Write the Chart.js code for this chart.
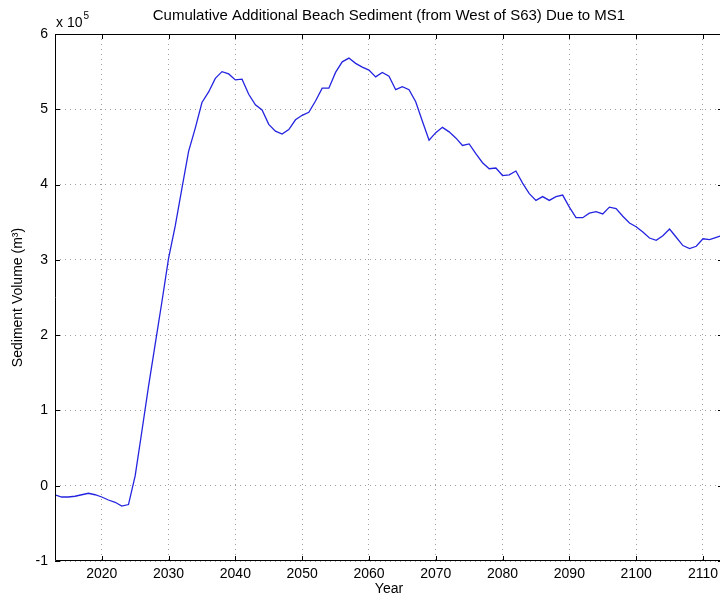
<!DOCTYPE html>
<html>
<head>
<meta charset="utf-8">
<script src="https://cdn.jsdelivr.net/npm/chart.js@4/dist/chart.umd.min.js"></script>
<style>
  html, body { margin: 0; padding: 0; background: #fff; }
  #wrap { width: 720px; height: 598px; overflow: hidden; position: relative; }
  #wrap canvas { position: absolute; left: 0; top: 0; }
</style>
</head>
<body>
<div id="wrap"><canvas id="chart" width="723" height="598"></canvas></div>
<script>
// --- data (volume in units of 10^5 m^3) ---
const years = [
  2013, 2014, 2015, 2016, 2017, 2018, 2019, 2020, 2021, 2022,
  2023, 2024, 2025, 2026, 2027, 2028, 2029, 2030, 2031, 2032,
  2033, 2034, 2035, 2036, 2037, 2038, 2039, 2040, 2041, 2042,
  2043, 2044, 2045, 2046, 2047, 2048, 2049, 2050, 2051, 2052,
  2053, 2054, 2055, 2056, 2057, 2058, 2059, 2060, 2061, 2062,
  2063, 2064, 2065, 2066, 2067, 2068, 2069, 2070, 2071, 2072,
  2073, 2074, 2075, 2076, 2077, 2078, 2079, 2080, 2081, 2082,
  2083, 2084, 2085, 2086, 2087, 2088, 2089, 2090, 2091, 2092,
  2093, 2094, 2095, 2096, 2097, 2098, 2099, 2100, 2101, 2102,
  2103, 2104, 2105, 2106, 2107, 2108, 2109, 2110, 2111, 2112,
  2113
];
const volume = [
  -0.12, -0.15, -0.15, -0.14, -0.12, -0.10, -0.12, -0.15, -0.19, -0.22,
  -0.27, -0.25, 0.13, 0.72, 1.32, 1.88, 2.44, 3.02, 3.45, 3.95,
  4.44, 4.75, 5.09, 5.23, 5.41, 5.50, 5.47, 5.39, 5.40, 5.20,
  5.06, 4.99, 4.80, 4.71, 4.67, 4.73, 4.86, 4.92, 4.96, 5.11,
  5.28, 5.28, 5.49, 5.63, 5.68, 5.61, 5.56, 5.52, 5.43, 5.49,
  5.44, 5.26, 5.30, 5.26, 5.10, 4.84, 4.59, 4.69, 4.76, 4.70,
  4.62, 4.52, 4.54, 4.41, 4.29, 4.21, 4.22, 4.12, 4.13, 4.18,
  4.02, 3.88, 3.79, 3.84, 3.79, 3.84, 3.86, 3.70, 3.56, 3.56,
  3.62, 3.64, 3.61, 3.70, 3.68, 3.58, 3.49, 3.44, 3.37, 3.29,
  3.26, 3.32, 3.41, 3.30, 3.19, 3.15, 3.18, 3.28, 3.27, 3.30,
  3.33
];
const xTicks = [2020, 2030, 2040, 2050, 2060, 2070, 2080, 2090, 2100, 2110];
const yTicks = [-1, 0, 1, 2, 3, 4, 5, 6];

const TITLE = 'Cumulative Additional Beach Sediment (from West of S63) Due to MS1';
const FONT = "'Liberation Sans', Arial, Helvetica, sans-serif";

// MATLAB-like box with inward tick marks, title over the axes, "x 10^5" label
const matlabAxes = {
  id: 'matlabAxes',
  afterDraw(chart) {
    const { ctx, chartArea: a, scales: { x, y } } = chart;
    const tl = 5;
    ctx.save();
    ctx.strokeStyle = '#000';
    ctx.lineWidth = 1;
    ctx.beginPath();
    ctx.rect(a.left + 0.5, a.top + 0.5, a.right - a.left - 1, a.bottom - a.top - 1);
    xTicks.forEach(v => {
      const px = Math.round(x.getPixelForValue(v)) + 0.5;
      ctx.moveTo(px, a.bottom); ctx.lineTo(px, a.bottom - tl);
      ctx.moveTo(px, a.top); ctx.lineTo(px, a.top + tl);
    });
    yTicks.forEach(v => {
      const py = Math.round(y.getPixelForValue(v)) + 0.5;
      ctx.moveTo(a.left, py); ctx.lineTo(a.left + tl, py);
      ctx.moveTo(a.right, py); ctx.lineTo(a.right - tl, py);
    });
    ctx.stroke();

    ctx.fillStyle = '#000';

    // title, centred over the plot box like MATLAB does
    ctx.font = '15px ' + FONT;
    ctx.textAlign = 'center';
    ctx.textBaseline = 'middle';
    ctx.fillText(TITLE, (a.left + a.right) / 2, 16);

    // exponent label
    ctx.textAlign = 'left';
    ctx.textBaseline = 'alphabetic';
    ctx.font = '14px ' + FONT;
    ctx.fillText('x 10', a.left + 1, a.top - 7);
    const w = ctx.measureText('x 10').width;
    ctx.font = '10px ' + FONT;
    ctx.fillText('5', a.left + 2 + w, a.top - 15);
    ctx.restore();
  }
};

new Chart(document.getElementById('chart'), {
  type: 'line',
  data: {
    datasets: [{
      data: years.map((yr, i) => ({ x: yr, y: volume[i] })),
      borderColor: '#2424e0',
      borderWidth: 1.3,
      pointRadius: 0,
      tension: 0,
      fill: false
    }]
  },
  options: {
    responsive: false,
    animation: false,
    devicePixelRatio: 1,
    layout: { padding: { top: 34, left: 0, right: 0, bottom: 0 } },
    plugins: {
      legend: { display: false },
      tooltip: { enabled: false },
      title: { display: false }
    },
    scales: {
      x: {
        type: 'linear',
        min: 2013,
        max: 2113,
        afterFit: s => { s.height = 37; },
        afterBuildTicks: s => { s.ticks = xTicks.map(v => ({ value: v })); },
        ticks: {
          includeBounds: false,
          color: '#000',
          font: { family: FONT, size: 14 },
          padding: 5,
          maxRotation: 0,
          callback: v => String(v)
        },
        grid: { color: '#a0a0a0', lineWidth: 1, drawTicks: false },
        border: { display: false, dash: [1, 4] },
        title: {
          display: true,
          text: 'Year',
          color: '#000',
          font: { family: FONT, size: 14 },
          padding: { top: 0, bottom: 0 }
        }
      },
      y: {
        type: 'linear',
        min: -1,
        max: 6,
        afterFit: s => { s.width = 55; },
        afterBuildTicks: s => { s.ticks = yTicks.map(v => ({ value: v })); },
        ticks: {
          color: '#000',
          font: { family: FONT, size: 14 },
          padding: 7,
          callback: v => String(v)
        },
        grid: { color: '#a0a0a0', lineWidth: 1, drawTicks: false },
        border: { display: false, dash: [1, 4] },
        title: {
          display: true,
          text: 'Sediment Volume (m³)',
          color: '#000',
          font: { family: FONT, size: 14 },
          padding: { top: 10, bottom: 0 }
        }
      }
    }
  },
  plugins: [matlabAxes]
});
</script>
</body>
</html>
